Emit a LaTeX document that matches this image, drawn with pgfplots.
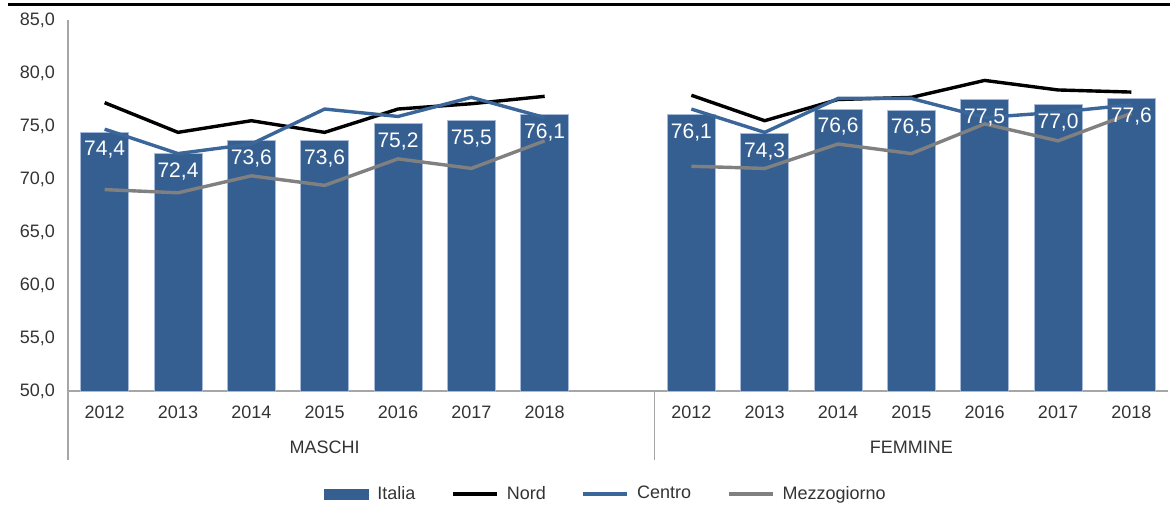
\documentclass[border=0pt]{standalone}
\usepackage{fontspec}
\setmainfont{Liberation Sans}
\usepackage{pgfplots}
\usepackage{pgfplotstable}
\pgfplotsset{compat=1.18}
\definecolor{italia}{HTML}{365F91}
\definecolor{baredge}{HTML}{A7BADA}
\definecolor{centro}{HTML}{3A6699}
\definecolor{mezzo}{HTML}{808080}
\definecolor{axisgray}{HTML}{A6A6A6}
\definecolor{txt}{HTML}{333333}

% x: 0-6 MASCHI 2012-2018, 8-14 FEMMINE 2012-2018
\pgfplotstableread{
x  italia nord centro mezzo
0  74.4 77.2 74.7 69.0
1  72.4 74.4 72.4 68.7
2  73.6 75.5 73.3 70.3
3  73.6 74.4 76.6 69.4
4  75.2 76.6 75.9 71.9
5  75.5 77.1 77.7 71.0
6  76.1 77.8 75.8 73.6
7  nan  nan  nan  nan
8  76.1 77.9 76.6 71.2
9  74.3 75.5 74.4 71.0
10 76.6 77.5 77.6 73.3
11 76.5 77.7 77.6 72.4
12 77.5 79.3 75.8 75.2
13 77.0 78.4 76.3 73.6
14 77.6 78.2 77.0 76.2
}\datatable

\begin{document}
\begin{tikzpicture}
\useasboundingbox (-34pt,-59pt) rectangle (551pt,195.5pt);
\draw[line width=1.5pt] (-30pt,193pt) -- (551pt,193pt);
\begin{axis}[
  at={(0,0)}, anchor=south west,
  scale only axis, width=550pt, height=185.5pt,
  xmin=-0.5, xmax=14.5, ymin=50, ymax=85,
  ytick={50,55,...,85},
  xtick={0,1,2,3,4,5,6,8,9,10,11,12,13,14},
  xticklabels={2012,2013,2014,2015,2016,2017,2018,2012,2013,2014,2015,2016,2017,2018},
  axis x line=bottom, axis y line=left,
  axis line style={-, axisgray, line width=0.6pt},
  major tick length=0pt,
  ticklabel style={font=\fontsize{9}{10}\selectfont, text=txt},
  xticklabel style={yshift=-4pt},
  yticklabel style={xshift=-3pt, /pgf/number format/.cd, fixed, fixed zerofill, precision=1, use comma, assume math mode=true},
  unbounded coords=jump,
  clip=false,
  legend style={at={(0.49,-0.278)}, anchor=center, draw=none, fill=none,
    legend columns=-1, font=\fontsize{9}{10}\selectfont, text=txt,
    /tikz/every even column/.append style={column sep=16pt},
    /tikz/every odd column/.append style={column sep=2pt}},
]
\addplot[ybar, bar width=24pt, bar shift=0pt, fill=italia, draw=baredge, line width=0.5pt,
  nodes near coords,
  nodes near coords style={text=white, anchor=north, yshift=-1pt,
    font=\fontsize{10.5}{11}\selectfont,
    /pgf/number format/.cd, fixed, fixed zerofill, precision=1, use comma, assume math mode=true},
  legend image code/.code={\fill[italia] (0pt,-2.5pt) rectangle (22pt,2.5pt);}]
  table[x=x, y=italia]{\datatable};
\addlegendentry{Italia}
\addplot[black, line width=1.7pt, legend image code/.code={\draw[black, line width=1.7pt] (0pt,0pt) -- (22pt,0pt);}]
  table[x=x, y=nord]{\datatable};
\addlegendentry{Nord}
\addplot[centro, line width=1.7pt, legend image code/.code={\draw[centro, line width=1.7pt] (0pt,0pt) -- (22pt,0pt);}]
  table[x=x, y=centro]{\datatable};
\addlegendentry{Centro}
\addplot[mezzo, line width=1.7pt, legend image code/.code={\draw[mezzo, line width=1.7pt] (0pt,0pt) -- (22pt,0pt);}]
  table[x=x, y=mezzo]{\datatable};
\addlegendentry{Mezzogiorno}
\draw[axisgray, line width=0.6pt] (axis cs:-0.5,50) -- ([yshift=-34.5pt]axis cs:-0.5,50);
\draw[axisgray, line width=0.6pt] (axis cs:7.5,50) -- ([yshift=-34.5pt]axis cs:7.5,50);
\node[font=\fontsize{9}{10}\selectfont, text=txt] at ([yshift=-28pt]axis cs:3,50) {MASCHI};
\node[font=\fontsize{9}{10}\selectfont, text=txt] at ([yshift=-28pt]axis cs:11,50) {FEMMINE};
\end{axis}
\end{tikzpicture}
\end{document}
